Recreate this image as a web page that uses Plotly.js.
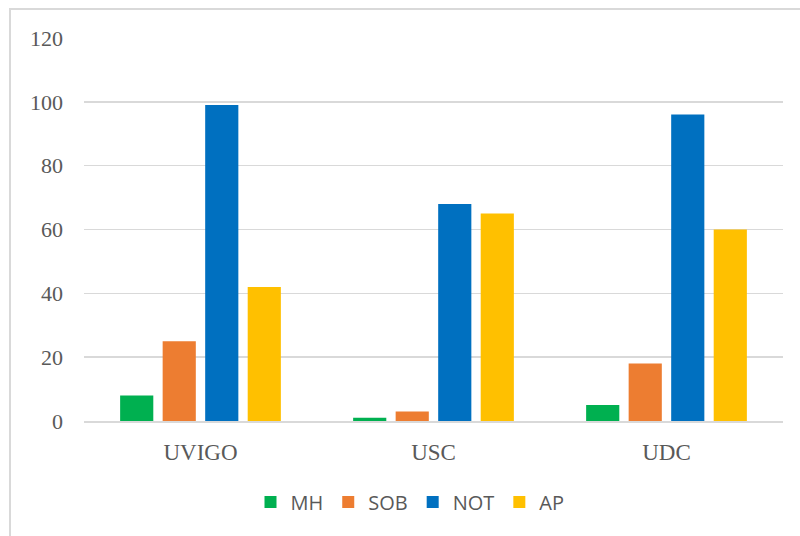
<!DOCTYPE html>
<html>
<head>
<meta charset="utf-8">
<script src="https://cdn.plot.ly/plotly-3.0.1.min.js"></script>
<style>
  html, body { margin: 0; padding: 0; background: #ffffff; }
  #chart { width: 800px; height: 536px; }
</style>
</head>
<body>
<div id="chart"></div>
<script>
const categories = ["UVIGO", "USC", "UDC"];
const seriesNames = ["MH", "SOB", "NOT", "AP"];
const mhValues = [8, 1, 5];
const sobValues = [25, 3, 18];
const notValues = [99, 68, 96];
const apValues = [42, 65, 60];
const yTicks = [0, 20, 40, 60, 80, 100, 120];

const seriesValues = [mhValues, sobValues, notValues, apValues];
const colors = ["#00B050", "#ED7D31", "#0070C0", "#FFC000"];

const traces = seriesNames.map((name, i) => ({
  type: "bar",
  name: name,
  x: categories,
  y: seriesValues[i],
  marker: { color: colors[i], line: { width: 0 } },
  hoverinfo: "x+y+name"
}));

const W = 800, H = 536;
const m = { l: 84, r: 17, t: 38, b: 115 };
const pw = W - m.l - m.r, ph = H - m.t - m.b;
const px = (x) => (x - m.l) / pw;
const py = (y) => (H - m.b - y) / ph;

const serif = "'Liberation Serif', 'Times New Roman', serif";

const layout = {
  width: W,
  height: H,
  margin: m,
  paper_bgcolor: "#ffffff",
  plot_bgcolor: "#ffffff",
  barmode: "group",
  bargap: 0.27,
  bargroupgap: 0.22,
  showlegend: true,
  legend: {
    orientation: "h",
    x: px(410),
    xanchor: "center",
    y: py(502),
    yanchor: "middle",
    font: { family: "'Open Sans', 'Liberation Sans', sans-serif", size: 20, color: "#595959" },
    itemclick: false,
    itemwidth: 30,
    tracegroupgap: 0
  },
  xaxis: {
    type: "category",
    showgrid: false,
    showline: true,
    linecolor: "#D9D9D9",
    linewidth: 1.5,
    ticks: "",
    ticklabelstandoff: 10,
    tickfont: { family: serif, size: 23, color: "#595959" },
    zeroline: false,
    fixedrange: true
  },
  yaxis: {
    range: [0, 120],
    tickvals: yTicks,
    ticktext: yTicks.map(String),
    showgrid: true,
    gridcolor: "#D9D9D9",
    gridwidth: 1.5,
    zeroline: false,
    showline: false,
    ticks: "",
    ticklabelstandoff: 20,
    tickfont: { family: serif, size: 22, color: "#595959" },
    fixedrange: true
  },
  shapes: [{
    type: "rect",
    xref: "paper",
    yref: "paper",
    x0: px(10),
    x1: px(815),
    y0: py(560),
    y1: py(9),
    line: { color: "#D9D9D9", width: 2 },
    fillcolor: "rgba(0,0,0,0)",
    layer: "below"
  }]
};

Plotly.newPlot("chart", traces, layout, { displayModeBar: false, staticPlot: true });
</script>
</body>
</html>
